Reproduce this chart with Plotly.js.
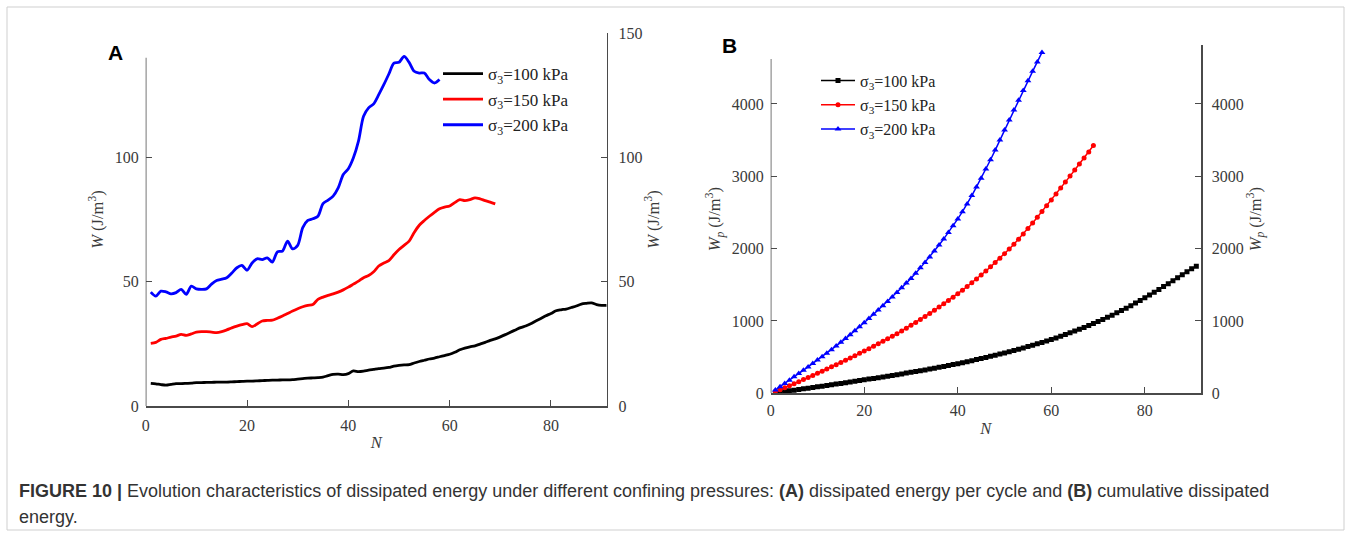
<!DOCTYPE html>
<html>
<head>
<meta charset="utf-8">
<script src="https://cdn.plot.ly/plotly-3.0.1.min.js"></script>
<style>
html,body{margin:0;padding:0;background:#fff;}
#chart{width:1352px;height:537px;}
</style>
</head>
<body>
<div id="chart"></div>
<script>
// ---- Panel A: dissipated energy per cycle W (J/m^3) ----
const seriesNames = ['σ<sub>3</sub>=100 kPa', 'σ<sub>3</sub>=150 kPa', 'σ<sub>3</sub>=200 kPa'];
const seriesColors = ['#000000', '#ff0000', '#0000ff'];

const W_100 = [9.1,8.9,8.6,8.4,8.7,9.0,9.0,9.1,9.2,9.4,9.4,9.5,9.5,9.6,9.6,9.6,9.7,9.8,9.9,10.0,
  10.0,10.1,10.2,10.3,10.4,10.4,10.5,10.5,10.6,10.8,11.0,11.2,11.3,11.4,11.6,12.2,12.7,12.8,12.6,13.0,
  14.1,13.8,14.0,14.4,14.7,15.0,15.2,15.5,16.0,16.3,16.5,16.6,17.3,17.9,18.4,18.9,19.3,19.8,20.3,20.8,
  21.6,22.6,23.3,23.8,24.2,24.9,25.6,26.4,27.0,27.8,28.7,29.7,30.6,31.5,32.2,33.1,34.2,35.2,36.3,37.2,
  38.3,38.7,39.0,39.6,40.2,41.0,41.3,41.5,40.8,40.5,40.5];
const W_150 = [25.2,25.6,26.8,27.2,27.7,28.1,28.8,28.4,29.0,29.7,29.9,29.9,29.7,29.5,29.9,30.6,31.4,32.1,32.7,33.1,
  31.9,33.0,34.2,34.4,34.5,35.3,36.2,37.2,38.2,39.1,39.9,40.5,40.8,42.9,43.8,44.5,45.1,45.8,46.7,47.8,
  49.0,50.2,51.6,52.5,54.0,56.3,57.5,58.5,60.8,62.9,64.6,66.3,69.8,72.7,74.6,76.3,77.9,79.3,80.0,80.4,
  81.8,83.0,82.6,83.0,83.7,83.3,82.6,82.0,81.3];
const W_200 = [45.8,44.2,46.2,45.9,45.1,45.6,46.9,44.9,48.2,47.1,46.9,47.1,49.0,50.5,51.0,51.6,53.5,55.6,56.5,54.6,
  57.5,59.2,58.9,59.6,57.9,62.0,62.3,66.3,63.2,64.6,71.7,74.6,75.3,76.3,81.4,82.8,84.4,87.7,93.1,95.4,
  99.8,106.5,116.5,119.9,121.5,125.2,129.2,133.5,137.9,138.2,140.6,138.2,134.6,133.9,133.9,131.3,129.9,131.3];

// ---- Panel B: cumulative dissipated energy Wp (J/m^3) ----
const Wp_100 = [9.1,18.0,26.6,35.0,43.7,52.7,61.7,70.8,80.0,89.4,98.8,108.3,117.8,127.4,137.0,146.6,156.3,166.1,176.0,186.0,
  196.0,206.1,216.3,226.6,237.0,247.4,257.9,268.4,279.0,289.8,300.8,312.0,323.3,334.7,346.3,358.5,371.2,384.0,396.6,409.6,
  423.7,437.5,451.5,465.9,480.6,495.6,510.8,526.3,542.3,558.6,575.1,591.7,609.0,626.9,645.3,664.2,683.5,703.3,723.6,744.4,
  766.0,788.6,811.9,835.7,859.9,884.8,910.4,936.8,963.8,991.6,1020.3,1050.0,1080.6,1112.1,1144.3,1177.4,1211.6,1246.8,1283.1,1320.3,
  1358.6,1397.3,1436.3,1475.9,1516.1,1557.1,1598.4,1639.9,1680.7,1721.2,1755.0];
const Wp_150 = [25.2,50.8,77.6,104.8,132.5,160.6,189.4,217.8,246.8,276.5,306.4,336.3,366.0,395.5,425.4,456.0,487.4,519.5,552.2,585.3,
  617.2,650.2,684.4,718.8,753.3,788.6,824.8,862.0,900.2,939.3,979.2,1019.7,1060.5,1103.4,1147.2,1191.7,1236.8,1282.6,1329.3,1377.1,
  1426.1,1476.3,1527.9,1580.4,1634.4,1690.7,1748.2,1806.7,1867.5,1930.4,1995.0,2061.3,2131.1,2203.8,2278.4,2354.7,2432.6,2511.9,2591.9,2672.3,
  2754.1,2837.1,2919.7,3002.7,3086.4,3169.7,3252.3,3334.3,3425.0];
const Wp_200 = [45.8,90.0,136.2,182.1,227.2,272.8,319.7,364.6,412.8,459.9,506.8,553.9,602.9,653.4,704.4,756.0,809.5,865.1,921.6,976.2,
  1033.7,1092.9,1151.8,1211.4,1269.3,1331.3,1393.6,1459.9,1523.1,1587.7,1659.4,1734.0,1809.3,1885.6,1967.0,2049.8,2134.2,2221.9,2315.0,2410.4,
  2510.2,2616.7,2733.2,2853.1,2974.6,3099.8,3229.0,3362.5,3500.4,3638.6,3779.2,3917.4,4052.0,4185.9,4319.8,4451.1,4581.0,4712.3];

const tickA_left = [0, 50, 100];
const tickA_right = [0, 50, 100, 150];
const tickB = [0, 1000, 2000, 3000, 4000];
const tickN = [0, 20, 40, 60, 80];

const captionLine1 = '<b>FIGURE 10 |</b> Evolution characteristics of dissipated energy under different confining pressures: <b>(A)</b> dissipated energy per cycle and <b>(B)</b> cumulative dissipated';
const captionLine2 = 'energy.';

function cycles(arr){ return arr.map((_, i) => i + 1); }

const W = 1352, H = 537;
const px = v => v / W;
const py = v => 1 - v / H;

const serif = 'Liberation Serif, Times New Roman, serif';
const sans = 'Liberation Sans, Arial, sans-serif';
const axisGrey = '#4a4a4a';
const tickFont = {family: serif, size: 16, color: '#3a3a3a'};

const panelA = [W_100, W_150, W_200];
const panelB = [Wp_100, Wp_150, Wp_200];
const symbols = ['square', 'circle', 'triangle-up'];

const traces = [];
panelA.forEach((arr, i) => {
  traces.push({
    x: cycles(arr), y: arr, type: 'scatter', mode: 'lines',
    name: seriesNames[i], legend: 'legend', legendgroup: 'a' + i,
    line: {color: seriesColors[i], width: 2.8, shape: 'spline', smoothing: 0.8},
    xaxis: 'x', yaxis: 'y'
  });
});
traces.push({x: [], y: [], xaxis: 'x', yaxis: 'y2', showlegend: false, hoverinfo: 'skip'});
panelB.forEach((arr, i) => {
  traces.push({
    x: cycles(arr), y: arr, type: 'scatter', mode: 'lines+markers',
    name: seriesNames[i], legend: 'legend2', legendgroup: 'b' + i,
    line: {color: seriesColors[i], width: 1.5},
    marker: {color: seriesColors[i], size: i === 2 ? 6 : 5, symbol: symbols[i]},
    xaxis: 'x2', yaxis: 'y3'
  });
});
traces.push({x: [], y: [], xaxis: 'x2', yaxis: 'y4', showlegend: false, hoverinfo: 'skip'});

const yRangeA = [0, 150];
const yRangeB = [0, 4815];

const baseAxis = {
  showgrid: false, zeroline: false, ticks: 'inside', ticklen: 6, tickwidth: 1,
  tickcolor: axisGrey, linecolor: axisGrey, linewidth: 1.5, tickfont: tickFont,
  fixedrange: true
};
const titleFont = {family: serif, size: 16.5, color: '#3a3a3a'};

const layout = {
  width: W, height: H,
  margin: {l: 0, r: 0, t: 0, b: 0},
  paper_bgcolor: '#fff', plot_bgcolor: 'rgba(0,0,0,0)',
  showlegend: true,
  xaxis: Object.assign({}, baseAxis, {
    domain: [px(145.7), px(606.7)], range: [0, 91], anchor: 'y',
    tickvals: tickN, showline: true, ticklabelstandoff: 4,
    title: {text: '<i>N</i>', font: titleFont, standoff: 3}
  }),
  yaxis: Object.assign({}, baseAxis, {
    domain: [py(406), py(33)], range: yRangeA, anchor: 'x',
    tickvals: tickA_left, showline: false, ticklabelstandoff: 6,
    title: {text: '<i>W</i> (J/m<sup>3</sup>)', font: titleFont, standoff: 6}
  }),
  yaxis2: Object.assign({}, baseAxis, {
    domain: [py(406), py(33)], range: yRangeA, anchor: 'x', overlaying: 'y', side: 'right',
    tickvals: tickA_right, showline: true, ticklabelstandoff: 7,
    title: {text: '<i>W</i> (J/m<sup>3</sup>)', font: titleFont, standoff: 6}
  }),
  xaxis2: Object.assign({}, baseAxis, {
    domain: [px(770.7), px(1201)], range: [0, 92], anchor: 'y3',
    tickvals: tickN, showline: true, ticklabelstandoff: 2,
    title: {text: '<i>N</i>', font: titleFont, standoff: 4}
  }),
  yaxis3: Object.assign({}, baseAxis, {
    domain: [py(393.3), py(45)], range: yRangeB, anchor: 'x2',
    tickvals: tickB, showline: false, ticklabelstandoff: 6,
    title: {text: '<i>W<sub>p</sub></i> (J/m<sup>3</sup>)', font: titleFont, standoff: 6}
  }),
  yaxis4: Object.assign({}, baseAxis, {
    domain: [py(393.3), py(45)], range: yRangeB, anchor: 'x2', overlaying: 'y3', side: 'right',
    tickvals: tickB, showline: true, ticklabelstandoff: 6,
    title: {text: '<i>W<sub>p</sub></i> (J/m<sup>3</sup>)', font: titleFont, standoff: 6}
  }),
  legend: {
    x: px(438), y: py(56), xanchor: 'left', yanchor: 'top',
    bgcolor: 'rgba(0,0,0,0)', borderwidth: 0, tracegroupgap: 0.5, itemwidth: 40,
    font: {family: serif, size: 17, color: '#222'}
  },
  legend2: {
    x: px(816), y: py(63.5), xanchor: 'left', yanchor: 'top',
    bgcolor: 'rgba(0,0,0,0)', borderwidth: 0, tracegroupgap: 0.5, itemwidth: 34,
    font: {family: serif, size: 16, color: '#222'}
  },
  shapes: [
    {type: 'line', xref: 'x', yref: 'y', x0: 0, x1: 0, y0: 0, y1: 140, line: {color: axisGrey, width: 1.5}},
    {type: 'line', xref: 'x2', yref: 'y3', x0: 0, x1: 0, y0: 0, y1: 4620, line: {color: axisGrey, width: 1.5}},
    {type: 'rect', xref: 'paper', yref: 'paper', x0: px(7), x1: px(1344), y0: py(530), y1: py(7), line: {color: '#cfcfcf', width: 1}}
  ],
  annotations: [
    {text: '<b>A</b>', xref: 'paper', yref: 'paper', x: px(116), y: py(52.5), xanchor: 'center', yanchor: 'middle',
     showarrow: false, font: {family: sans, size: 21, color: '#000'}},
    {text: '<b>B</b>', xref: 'paper', yref: 'paper', x: px(729), y: py(45.5), xanchor: 'center', yanchor: 'middle',
     showarrow: false, font: {family: sans, size: 21, color: '#000'}},
    {text: captionLine1, xref: 'paper', yref: 'paper', x: px(17), y: py(491), xanchor: 'left', yanchor: 'middle',
     showarrow: false, font: {family: sans, size: 18, color: '#333'}},
    {text: captionLine2, xref: 'paper', yref: 'paper', x: px(17), y: py(517), xanchor: 'left', yanchor: 'middle',
     showarrow: false, font: {family: sans, size: 18, color: '#333'}}
  ]
};

Plotly.newPlot('chart', traces, layout, {displayModeBar: false, staticPlot: true});
</script>
</body>
</html>
